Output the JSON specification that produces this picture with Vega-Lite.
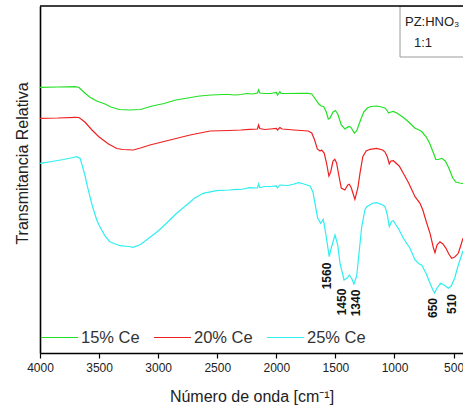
{
  "$schema": "https://vega.github.io/schema/vega-lite/v6.json",
  "autosize": {"type": "none"},
  "width": 423,
  "height": 347,
  "padding": {"left": 40, "top": 6, "right": 0, "bottom": 56},
  "background": "white",
  "config": {"view": {"stroke": null}, "font": "Liberation Sans"},
  "datasets": {
    "spec": [
      {"s":"15% Ce","x":4000,"t":265.7},{"s":"15% Ce","x":3850,"t":266},{"s":"15% Ce","x":3700,"t":266.3},{"s":"15% Ce","x":3670,"t":265.5},{"s":"15% Ce","x":3630,"t":261},{"s":"15% Ce","x":3580,"t":256},{"s":"15% Ce","x":3520,"t":252},{"s":"15% Ce","x":3450,"t":249},{"s":"15% Ce","x":3400,"t":246},{"s":"15% Ce","x":3330,"t":243.5},{"s":"15% Ce","x":3240,"t":243},{"s":"15% Ce","x":3150,"t":243.5},{"s":"15% Ce","x":3050,"t":247},{"s":"15% Ce","x":2950,"t":249.5},{"s":"15% Ce","x":2850,"t":253},{"s":"15% Ce","x":2750,"t":255},{"s":"15% Ce","x":2650,"t":257},{"s":"15% Ce","x":2550,"t":258},{"s":"15% Ce","x":2450,"t":258.5},{"s":"15% Ce","x":2400,"t":258.5},{"s":"15% Ce","x":2350,"t":258},{"s":"15% Ce","x":2300,"t":258.5},{"s":"15% Ce","x":2250,"t":259.5},{"s":"15% Ce","x":2200,"t":259},{"s":"15% Ce","x":2160,"t":260},{"s":"15% Ce","x":2150,"t":263},{"s":"15% Ce","x":2140,"t":260},{"s":"15% Ce","x":2100,"t":259.5},{"s":"15% Ce","x":2050,"t":259.5},{"s":"15% Ce","x":2000,"t":260.5},{"s":"15% Ce","x":1990,"t":258},{"s":"15% Ce","x":1970,"t":261.5},{"s":"15% Ce","x":1960,"t":259.5},{"s":"15% Ce","x":1900,"t":259.5},{"s":"15% Ce","x":1800,"t":259.7},{"s":"15% Ce","x":1730,"t":259.7},{"s":"15% Ce","x":1700,"t":259},{"s":"15% Ce","x":1670,"t":254},{"s":"15% Ce","x":1640,"t":249},{"s":"15% Ce","x":1620,"t":247},{"s":"15% Ce","x":1600,"t":246.5},{"s":"15% Ce","x":1580,"t":242},{"s":"15% Ce","x":1560,"t":234},{"s":"15% Ce","x":1545,"t":235},{"s":"15% Ce","x":1520,"t":241},{"s":"15% Ce","x":1500,"t":242.5},{"s":"15% Ce","x":1480,"t":239},{"s":"15% Ce","x":1450,"t":228},{"s":"15% Ce","x":1420,"t":224},{"s":"15% Ce","x":1390,"t":226.3},{"s":"15% Ce","x":1370,"t":226},{"s":"15% Ce","x":1340,"t":220},{"s":"15% Ce","x":1320,"t":222},{"s":"15% Ce","x":1290,"t":232},{"s":"15% Ce","x":1260,"t":241},{"s":"15% Ce","x":1230,"t":245},{"s":"15% Ce","x":1200,"t":246.5},{"s":"15% Ce","x":1150,"t":247},{"s":"15% Ce","x":1110,"t":246},{"s":"15% Ce","x":1080,"t":245},{"s":"15% Ce","x":1060,"t":242},{"s":"15% Ce","x":1050,"t":240},{"s":"15% Ce","x":1030,"t":241},{"s":"15% Ce","x":1010,"t":241.5},{"s":"15% Ce","x":980,"t":240},{"s":"15% Ce","x":930,"t":236},{"s":"15% Ce","x":880,"t":231},{"s":"15% Ce","x":826,"t":224.7},{"s":"15% Ce","x":790,"t":223},{"s":"15% Ce","x":770,"t":221.5},{"s":"15% Ce","x":730,"t":216},{"s":"15% Ce","x":700,"t":209},{"s":"15% Ce","x":670,"t":200},{"s":"15% Ce","x":650,"t":193.5},{"s":"15% Ce","x":630,"t":193.5},{"s":"15% Ce","x":600,"t":194.7},{"s":"15% Ce","x":570,"t":192},{"s":"15% Ce","x":540,"t":185},{"s":"15% Ce","x":507,"t":175},{"s":"15% Ce","x":480,"t":171},{"s":"15% Ce","x":451,"t":170},{"s":"15% Ce","x":420,"t":169.5},
      {"s":"20% Ce","x":4000,"t":234.7},{"s":"20% Ce","x":3850,"t":235},{"s":"20% Ce","x":3700,"t":235.7},{"s":"20% Ce","x":3670,"t":235.5},{"s":"20% Ce","x":3620,"t":231},{"s":"20% Ce","x":3560,"t":223},{"s":"20% Ce","x":3500,"t":216},{"s":"20% Ce","x":3420,"t":209},{"s":"20% Ce","x":3350,"t":204.5},{"s":"20% Ce","x":3300,"t":203.5},{"s":"20% Ce","x":3210,"t":203},{"s":"20% Ce","x":3150,"t":205},{"s":"20% Ce","x":3070,"t":208},{"s":"20% Ce","x":2900,"t":213},{"s":"20% Ce","x":2730,"t":218},{"s":"20% Ce","x":2560,"t":222},{"s":"20% Ce","x":2400,"t":222.5},{"s":"20% Ce","x":2300,"t":223},{"s":"20% Ce","x":2225,"t":223.7},{"s":"20% Ce","x":2160,"t":224},{"s":"20% Ce","x":2150,"t":228},{"s":"20% Ce","x":2140,"t":224.5},{"s":"20% Ce","x":2100,"t":223.5},{"s":"20% Ce","x":2050,"t":224},{"s":"20% Ce","x":2000,"t":224.5},{"s":"20% Ce","x":1990,"t":223},{"s":"20% Ce","x":1970,"t":225.5},{"s":"20% Ce","x":1950,"t":224},{"s":"20% Ce","x":1850,"t":223},{"s":"20% Ce","x":1730,"t":222},{"s":"20% Ce","x":1700,"t":220},{"s":"20% Ce","x":1676,"t":213},{"s":"20% Ce","x":1653,"t":204},{"s":"20% Ce","x":1630,"t":202},{"s":"20% Ce","x":1616,"t":203},{"s":"20% Ce","x":1595,"t":200},{"s":"20% Ce","x":1575,"t":190},{"s":"20% Ce","x":1555,"t":177},{"s":"20% Ce","x":1540,"t":181},{"s":"20% Ce","x":1520,"t":192},{"s":"20% Ce","x":1505,"t":193.7},{"s":"20% Ce","x":1490,"t":190},{"s":"20% Ce","x":1470,"t":177},{"s":"20% Ce","x":1450,"t":165},{"s":"20% Ce","x":1420,"t":163},{"s":"20% Ce","x":1395,"t":168},{"s":"20% Ce","x":1382,"t":168.7},{"s":"20% Ce","x":1365,"t":165},{"s":"20% Ce","x":1335,"t":153.7},{"s":"20% Ce","x":1310,"t":165},{"s":"20% Ce","x":1292,"t":179.7},{"s":"20% Ce","x":1268,"t":196.3},{"s":"20% Ce","x":1240,"t":202},{"s":"20% Ce","x":1207,"t":203.7},{"s":"20% Ce","x":1150,"t":204.7},{"s":"20% Ce","x":1100,"t":203},{"s":"20% Ce","x":1080,"t":201},{"s":"20% Ce","x":1060,"t":196},{"s":"20% Ce","x":1044,"t":189},{"s":"20% Ce","x":1030,"t":192},{"s":"20% Ce","x":1010,"t":192.3},{"s":"20% Ce","x":960,"t":187},{"s":"20% Ce","x":925,"t":179.7},{"s":"20% Ce","x":880,"t":170},{"s":"20% Ce","x":826,"t":156.3},{"s":"20% Ce","x":784,"t":149.7},{"s":"20% Ce","x":760,"t":143},{"s":"20% Ce","x":730,"t":131},{"s":"20% Ce","x":699,"t":119.7},{"s":"20% Ce","x":670,"t":105},{"s":"20% Ce","x":657,"t":100.3},{"s":"20% Ce","x":640,"t":108},{"s":"20% Ce","x":615,"t":111.3},{"s":"20% Ce","x":590,"t":109},{"s":"20% Ce","x":564,"t":104.7},{"s":"20% Ce","x":540,"t":99},{"s":"20% Ce","x":516,"t":94.7},{"s":"20% Ce","x":490,"t":96},{"s":"20% Ce","x":460,"t":99.7},{"s":"20% Ce","x":440,"t":107},{"s":"20% Ce","x":420,"t":114.7},
      {"s":"25% Ce","x":4000,"t":189.7},{"s":"25% Ce","x":3900,"t":191.5},{"s":"25% Ce","x":3800,"t":193.5},{"s":"25% Ce","x":3720,"t":195.5},{"s":"25% Ce","x":3690,"t":196.3},{"s":"25% Ce","x":3660,"t":194.5},{"s":"25% Ce","x":3648,"t":189.7},{"s":"25% Ce","x":3620,"t":178},{"s":"25% Ce","x":3605,"t":169.7},{"s":"25% Ce","x":3563,"t":149.7},{"s":"25% Ce","x":3520,"t":133},{"s":"25% Ce","x":3493,"t":126.3},{"s":"25% Ce","x":3450,"t":117},{"s":"25% Ce","x":3409,"t":111.3},{"s":"25% Ce","x":3324,"t":107.3},{"s":"25% Ce","x":3250,"t":106.5},{"s":"25% Ce","x":3211,"t":105.7},{"s":"25% Ce","x":3150,"t":108.5},{"s":"25% Ce","x":3099,"t":113},{"s":"25% Ce","x":3000,"t":122},{"s":"25% Ce","x":2930,"t":129.7},{"s":"25% Ce","x":2850,"t":139},{"s":"25% Ce","x":2760,"t":148},{"s":"25% Ce","x":2690,"t":155},{"s":"25% Ce","x":2620,"t":159.7},{"s":"25% Ce","x":2507,"t":162.3},{"s":"25% Ce","x":2400,"t":163},{"s":"25% Ce","x":2338,"t":163.7},{"s":"25% Ce","x":2300,"t":163.5},{"s":"25% Ce","x":2225,"t":165.3},{"s":"25% Ce","x":2160,"t":165},{"s":"25% Ce","x":2150,"t":169},{"s":"25% Ce","x":2140,"t":165.5},{"s":"25% Ce","x":2100,"t":166.5},{"s":"25% Ce","x":2050,"t":166.5},{"s":"25% Ce","x":2000,"t":167},{"s":"25% Ce","x":1990,"t":165},{"s":"25% Ce","x":1970,"t":168},{"s":"25% Ce","x":1900,"t":167.5},{"s":"25% Ce","x":1850,"t":169},{"s":"25% Ce","x":1814,"t":170.3},{"s":"25% Ce","x":1780,"t":169.5},{"s":"25% Ce","x":1715,"t":167},{"s":"25% Ce","x":1690,"t":161},{"s":"25% Ce","x":1673,"t":149.7},{"s":"25% Ce","x":1650,"t":135},{"s":"25% Ce","x":1625,"t":129.7},{"s":"25% Ce","x":1602,"t":133.7},{"s":"25% Ce","x":1580,"t":118},{"s":"25% Ce","x":1552,"t":96.3},{"s":"25% Ce","x":1535,"t":105},{"s":"25% Ce","x":1503,"t":118},{"s":"25% Ce","x":1480,"t":108},{"s":"25% Ce","x":1461,"t":89.7},{"s":"25% Ce","x":1427,"t":73},{"s":"25% Ce","x":1400,"t":75},{"s":"25% Ce","x":1382,"t":78},{"s":"25% Ce","x":1360,"t":74},{"s":"25% Ce","x":1343,"t":69},{"s":"25% Ce","x":1320,"t":77},{"s":"25% Ce","x":1306,"t":93},{"s":"25% Ce","x":1277,"t":126.3},{"s":"25% Ce","x":1250,"t":143},{"s":"25% Ce","x":1235,"t":146.3},{"s":"25% Ce","x":1180,"t":150},{"s":"25% Ce","x":1150,"t":150.3},{"s":"25% Ce","x":1100,"t":148},{"s":"25% Ce","x":1080,"t":146.3},{"s":"25% Ce","x":1060,"t":138},{"s":"25% Ce","x":1044,"t":126.3},{"s":"25% Ce","x":1025,"t":131.5},{"s":"25% Ce","x":1010,"t":132.3},{"s":"25% Ce","x":960,"t":123},{"s":"25% Ce","x":925,"t":114.7},{"s":"25% Ce","x":870,"t":105},{"s":"25% Ce","x":826,"t":93},{"s":"25% Ce","x":790,"t":89},{"s":"25% Ce","x":770,"t":88},{"s":"25% Ce","x":730,"t":79},{"s":"25% Ce","x":699,"t":69.7},{"s":"25% Ce","x":675,"t":63},{"s":"25% Ce","x":660,"t":60},{"s":"25% Ce","x":640,"t":65},{"s":"25% Ce","x":609,"t":69.7},{"s":"25% Ce","x":580,"t":68},{"s":"25% Ce","x":544,"t":64.7},{"s":"25% Ce","x":520,"t":67},{"s":"25% Ce","x":490,"t":75},{"s":"25% Ce","x":460,"t":88},{"s":"25% Ce","x":440,"t":95},{"s":"25% Ce","x":420,"t":102}
    ],
    "peaks": [
      {"lab":"1560","x":1574,"t":77},
      {"lab":"1450","x":1442,"t":51},
      {"lab":"1340","x":1326,"t":50},
      {"lab":"650","x":671,"t":45},
      {"lab":"510","x":516,"t":49}
    ]
  },
  "layer": [
    {
      "data": {"values": [{"x1": 953, "x2": 380, "y1": 296, "y2": 347}]},
      "mark": {"type": "rect", "fill": "white", "stroke": "#9a9a9a", "strokeWidth": 1, "clip": true},
      "encoding": {
        "x": {"field": "x1", "type": "quantitative"},
        "x2": {"field": "x2"},
        "y": {"field": "y1", "type": "quantitative"},
        "y2": {"field": "y2"}
      }
    },
    {
      "data": {"name": "spec"},
      "mark": {"type": "line", "strokeWidth": 1.2, "clip": true},
      "encoding": {
        "x": {
          "field": "x", "type": "quantitative",
          "scale": {"domain": [4000, 420], "nice": false, "zero": false},
          "axis": {
            "values": [4000,3750,3500,3250,3000,2750,2500,2250,2000,1750,1500,1250,1000,750,500],
            "labelExpr": "datum.value % 500 == 0 ? datum.label : ''",
            "format": "d",
            "grid": false,
            "domainColor": "black", "domainWidth": 1.6,
            "tickColor": "black", "tickSize": 5, "tickWidth": 1.2,
            "labelFontSize": 12, "labelColor": "#222", "labelPadding": 4, "labelFlush": false, "labelOverlap": false,
            "title": "Número de onda [cm⁻¹]",
            "titleFontSize": 16, "titleFontWeight": "normal", "titleColor": "#222", "titlePadding": 15
          }
        },
        "y": {
          "field": "t", "type": "quantitative",
          "scale": {"domain": [0, 347], "nice": false, "zero": false},
          "axis": {
            "labels": false, "ticks": false, "grid": false,
            "domainColor": "black", "domainWidth": 1.6,
            "title": "Transmitancia Relativa",
            "titleFontSize": 16, "titleFontWeight": "normal", "titleColor": "#222", "titlePadding": 10,
            "titleY": 157
          }
        },
        "color": {
          "field": "s", "type": "nominal",
          "scale": {"domain": ["15% Ce", "20% Ce", "25% Ce"], "range": ["#22e022", "#ee2020", "#30eef0"]},
          "legend": {
            "title": null, "orient": "none", "direction": "horizontal",
            "legendX": 0, "legendY": 312,
            "symbolType": "stroke", "symbolSize": 1369, "symbolStrokeWidth": 1.2,
            "labelFontSize": 16.5, "labelColor": "#333", "labelOffset": 2, "columnPadding": 11
          }
        }
      }
    },
    {
      "data": {"values": [{"top": 347}]},
      "mark": {"type": "rule", "color": "black", "strokeWidth": 1.6},
      "encoding": {"y": {"field": "top", "type": "quantitative"}}
    },
    {
      "data": {"name": "peaks"},
      "mark": {"type": "text", "angle": 270, "fontSize": 12, "fontWeight": "bold", "align": "center", "baseline": "middle", "color": "#111"},
      "encoding": {
        "x": {"field": "x", "type": "quantitative"},
        "y": {"field": "t", "type": "quantitative"},
        "text": {"field": "lab"}
      }
    },
    {
      "data": {"values": [{"lab": "PZ:HNO₃", "x": 911, "t": 331}]},
      "mark": {"type": "text", "fontSize": 13, "align": "left", "baseline": "middle", "color": "#222"},
      "encoding": {
        "x": {"field": "x", "type": "quantitative"},
        "y": {"field": "t", "type": "quantitative"},
        "text": {"field": "lab"}
      }
    },
    {
      "data": {"values": [{"lab": "1:1", "x": 759, "t": 310}]},
      "mark": {"type": "text", "fontSize": 13, "align": "center", "baseline": "middle", "color": "#222"},
      "encoding": {
        "x": {"field": "x", "type": "quantitative"},
        "y": {"field": "t", "type": "quantitative"},
        "text": {"field": "lab"}
      }
    }
  ]
}
